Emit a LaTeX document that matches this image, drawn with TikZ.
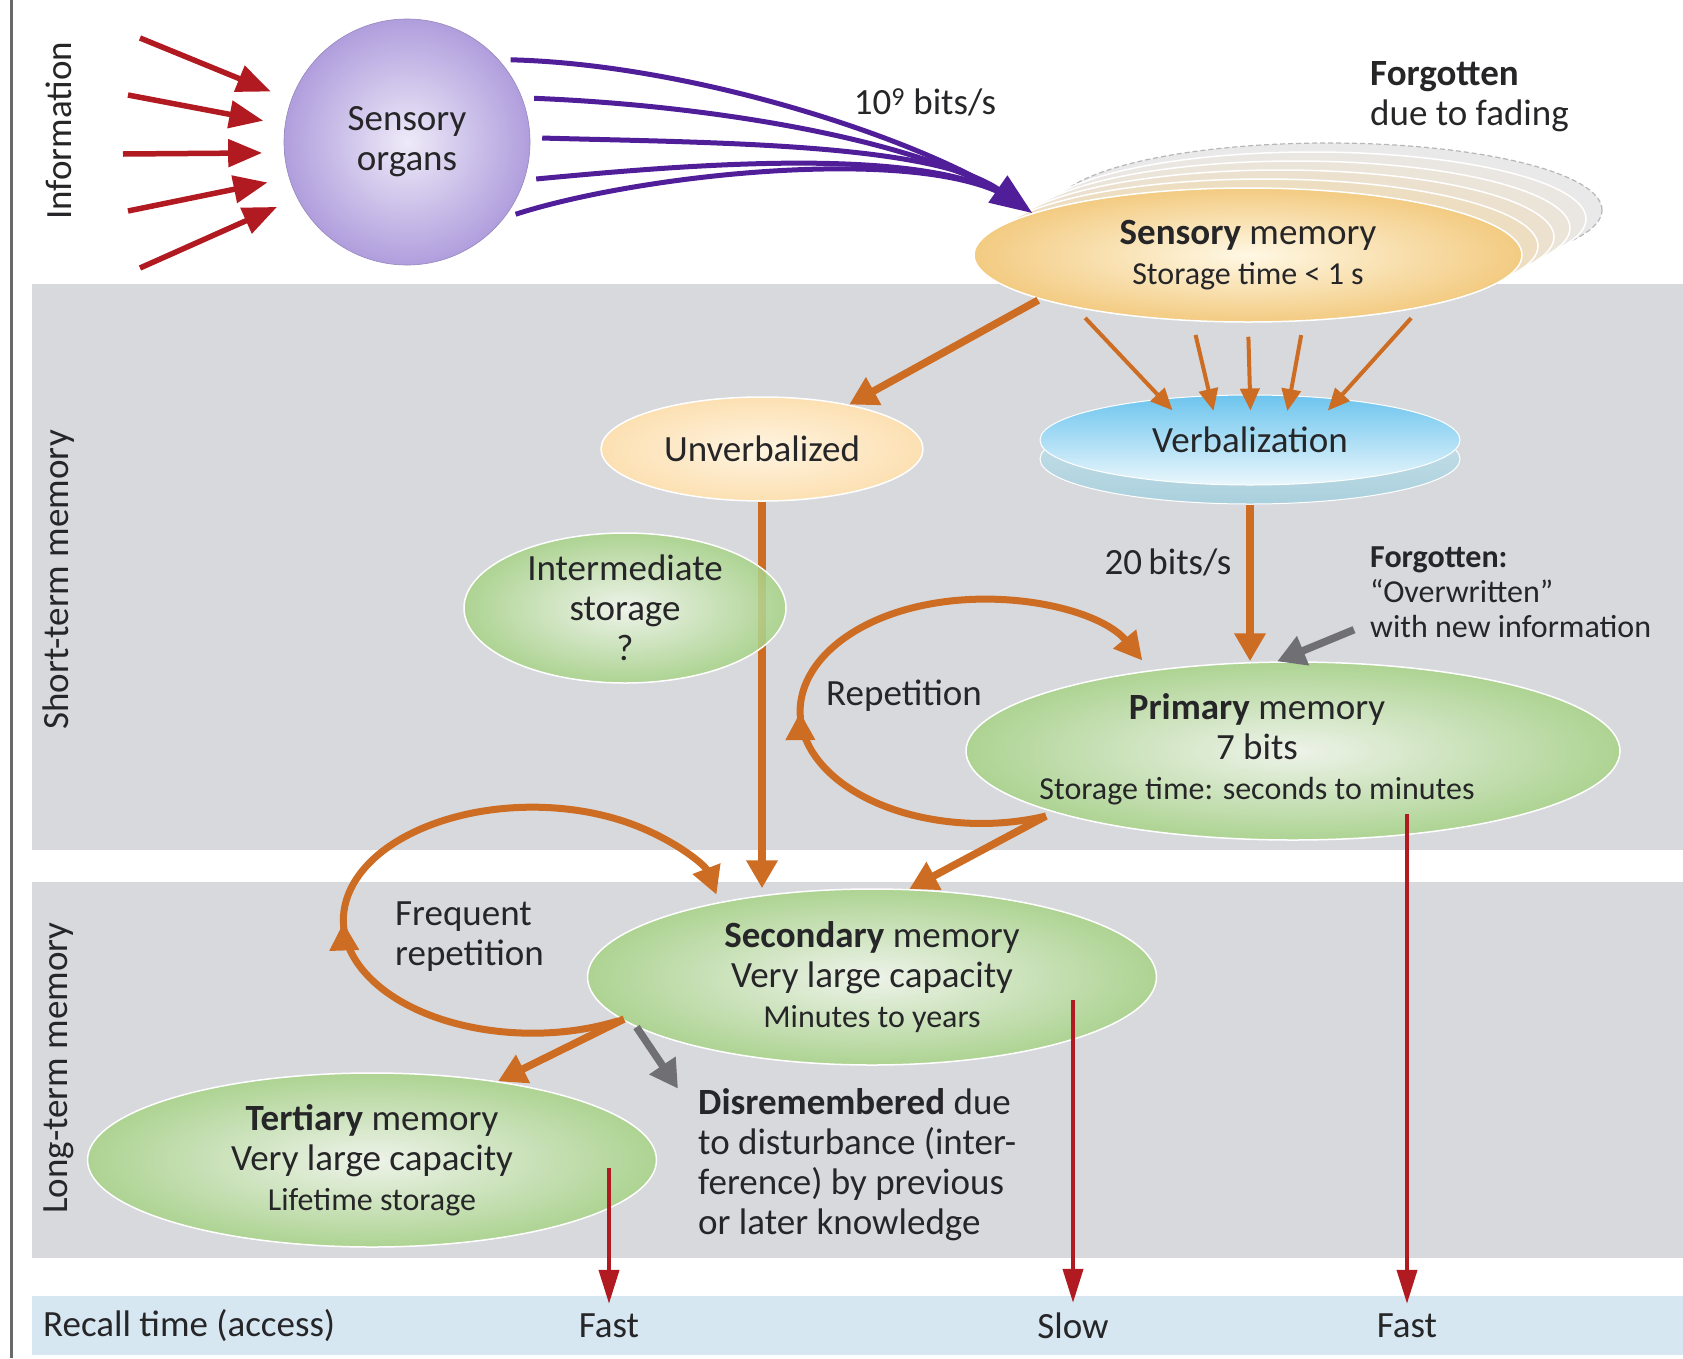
\documentclass[tikz,border=0pt]{standalone}
\usepackage{fontspec}
\setmainfont{Carlito}
\usetikzlibrary{arrows.meta,positioning,shapes.geometric,decorations.markings}
\definecolor{memorange}{RGB}{205,108,35}
\definecolor{recallred}{RGB}{178,26,34}
\definecolor{infopurple}{RGB}{80,30,152}
\definecolor{forgetgrey}{RGB}{112,112,116}
\definecolor{bandgrey}{RGB}{216,217,221}
\definecolor{bandblue}{RGB}{214,231,242}
\definecolor{rulegrey}{RGB}{105,105,105}
\definecolor{memgreen}{RGB}{166,211,134}
\definecolor{memgreenlight}{RGB}{242,248,236}
\definecolor{sensgold}{RGB}{243,203,130}
\definecolor{senslight}{RGB}{255,248,228}
\definecolor{peach}{RGB}{252,224,178}
\definecolor{peachlight}{RGB}{255,244,225}
\definecolor{verbblue}{RGB}{108,196,238}
\definecolor{verblight}{RGB}{234,247,252}
\definecolor{verbrim}{RGB}{170,208,221}
\definecolor{organlilac}{RGB}{176,158,221}
\definecolor{organlight}{RGB}{238,234,248}
\definecolor{ghostgrey}{RGB}{233,233,234}
\definecolor{textgrey}{RGB}{38,38,40}
\newcommand{\txtmain}{\fontsize{37}{40}\selectfont}
\newcommand{\txtsmall}{\fontsize{32}{35}\selectfont}

\begin{document}
\begin{tikzpicture}[
    x=1pt,y=-1pt,
    every node/.style={font=\txtmain,text=textgrey,inner sep=0pt},
    memnode/.style={ellipse,draw=white,line width=1.5pt,inner color=memgreenlight,
      outer color=memgreen,fill opacity=0.85,text opacity=1,align=center},
    sideword/.style={rotate=90},
    orangearrow/.style={draw=memorange,line width=7.5pt,-{Triangle[length=28pt,width=30pt]}},
    thinorange/.style={draw=memorange,line width=4pt,-{Triangle[length=22pt,width=19pt]}},
    loopline/.style={draw=memorange,line width=7pt,-{Triangle[length=28pt,width=28pt]},
      decoration={markings,mark=at position #1 with {\arrow{Triangle[length=28pt,width=28pt]}}},
      postaction={decorate}},
    inarrow/.style={draw=recallred,line width=5.5pt,-{Triangle[length=34pt,width=27pt]}},
    recallarrow/.style={draw=recallred,line width=4pt,-{Triangle[length=34pt,width=20pt]}},
    greyarrow/.style={draw=forgetgrey,line width=7.5pt,-{Triangle[length=28pt,width=30pt]}},
    infoline/.style={draw=infopurple,line width=5pt}
  ]
  \useasboundingbox (0,0) rectangle (1683,1358);
  % bands
  \fill[bandgrey] (32,284) rectangle (1683,850);
  \fill[bandgrey] (32,882) rectangle (1683,1258);
  \node[fill=bandblue,minimum width=1651pt,minimum height=59pt,anchor=north west] (recall) at (32,1296) {};
  \draw[rulegrey,line width=3pt] (11,0) -- (11,1358);
  \node[sideword] (infolbl) at (59,131) {Information};
  \node[sideword] (stmlbl) at (59,580) {Short-term memory};
  \node[sideword] (ltmlbl) at (59,1068) {Long-term memory};

  % information
  \node[circle,minimum size=246pt,inner color=organlight,outer color=organlilac,
    draw=organlilac!85!black,line width=0.6pt,align=center] (org) at (407,142) {Sensory\\organs};
  \coordinate (in1) at (140,38);
  \coordinate (in2) at (128,95);
  \coordinate (in3) at (123,154);
  \coordinate (in4) at (128,211);
  \coordinate (in5) at (140,268);
  \foreach \i/\a in {1/160,2/172,3/185,4/197,5/207}
    \draw[inarrow,shorten >=22pt] (in\i) -- (org.\a);

  % sensory memory and its faded copies
  \filldraw[fill=ghostgrey,draw=forgetgrey!50,line width=1.2pt,dash pattern=on 5pt off 3pt]
    (1328,210) ellipse [x radius=274pt,y radius=67pt];
  \foreach \k/\p in {4/8,3/16,2/26,1/38}
    \filldraw[fill=sensgold!\p!ghostgrey,draw=white,line width=1.5pt]
      (1248+16*\k,255-9*\k) ellipse [x radius=274pt,y radius=67pt];
  \node[ellipse,minimum width=548pt,minimum height=134pt,draw=white,line width=1.5pt,
    inner color=senslight,outer color=sensgold,align=center] (sens) at (1248,255)
    {{\bfseries Sensory} memory\\{\txtsmall Storage time < 1 s}};

  \foreach \a/\dx/\dy in {42/200/5,21/200/8,-18/160/-15,-38/140/-45}
    \draw[infoline,shorten <=12pt,shorten >=20pt] (org.\a) .. controls +(\dx,\dy) and +(-100,-70) .. (sens.169);
  \draw[infoline,shorten <=12pt,-{Triangle[length=42pt,width=32pt]}]
    (org.2) .. controls +(180,5) and +(-100,-70) .. (sens.169);
  \node (rate) at (925,102) {10\textsuperscript{9} bits/s};
  \node[anchor=west,align=left] (fade) at (1370,97) {{\bfseries Forgotten}\\due to fading};

  % short-term memory
  \node[ellipse,minimum width=322pt,minimum height=104pt,draw=white,line width=1.5pt,
    inner color=peachlight,outer color=peach] (unv) at (762,449) {Unverbalized};
  \node[ellipse,minimum width=420pt,minimum height=90pt,draw=white,line width=1pt,
    top color=verbrim!60,bottom color=verbrim] (verbbase) at (1250,459) {};
  \node[ellipse,minimum width=420pt,minimum height=90pt,draw=white,line width=1pt,
    top color=verbblue,bottom color=verblight] (verb) at (1250,440) {Verbalization};
  \draw[orangearrow,shorten <=2pt] (sens.192) -- (unv.27);
  \foreach \s/\t in {197/155,230/132,270/90,310/48,343/25}
    \draw[thinorange,shorten <=14pt,shorten >=-16pt] (sens.\s) -- (verb.\t);

  \coordinate (repfoot) at (1046,816);
  \draw[loopline=0.42] (repfoot) arc[start angle=-69,end angle=-333,x radius=181pt,y radius=112pt];
  \node[memnode,minimum width=654pt,minimum height=178pt] (prim) at (1293,751) {};
  \node[align=center] (primtxt) at (1257,749)
    {{\bfseries Primary} memory\\7 bits\\{\txtsmall Storage time: seconds to minutes}};
  \node[anchor=west] (reptxt) at (826,696) {Repetition};
  \draw[orangearrow] (verbbase.south) -- (verbbase.south |- prim.north)
    node[pos=0.37,left=15pt] (rate20) {20\,bits/s};
  \node[anchor=west,align=left,font=\txtsmall] (ovw) at (1370,592)
    {{\bfseries Forgotten:}\\``Overwritten''\\with new information};
  \draw[greyarrow] ([xshift=-16pt,yshift=8pt]ovw.south west) -- (prim.100);

  % long-term memory
  \coordinate (freqfoot) at (624,1019);
  \draw[loopline=0.42] (freqfoot) arc[start angle=-61,end angle=-347,x radius=189pt,y radius=113pt];
  \node[memnode,minimum width=569pt,minimum height=176pt] (sec) at (872,977)
    {{\bfseries Secondary} memory\\Very large capacity\\{\txtsmall Minutes to years}};
  \node[anchor=west,align=left] (freqtxt) at (395,937) {Frequent\\repetition};
  \draw[orangearrow] (unv.south) -- (unv.south |- sec.north);
  \node[memnode,minimum width=322pt,minimum height=150pt] (inter) at (625,608)
    {Intermediate\\storage\\?};
  \draw[orangearrow] (repfoot) -- (sec.67);

  \node[memnode,minimum width=569pt,minimum height=174pt] (ter) at (372,1160)
    {{\bfseries Tertiary} memory\\Very large capacity\\{\txtsmall Lifetime storage}};
  \draw[orangearrow] (freqfoot) -- (ter.32);
  \node[anchor=west,align=left] (disr) at (698,1165)
    {{\bfseries Disremembered} due\\to disturbance (inter-\\ference) by previous\\or later knowledge};
  \draw[greyarrow] (sec.192) -- ([xshift=-20pt]disr.north west);

  % recall time
  \node[anchor=west] (recalltxt) at (43,1326) {Recall time (access)};
  \node (fastter) at (609,1326) {Fast};
  \node (slowsec) at (1073,1326) {Slow};
  \node (fastprim) at (1407,1326) {Fast};
  \coordinate (terout) at (609,1168);
  \coordinate (secout) at (1073,1000);
  \coordinate (primout) at (1407,814);
  \draw[recallarrow,shorten >=10pt] (terout) -- (fastter.north);
  \draw[recallarrow,shorten >=10pt] (secout) -- (slowsec.north);
  \draw[recallarrow,shorten >=10pt] (primout) -- (fastprim.north);
\end{tikzpicture}
\end{document}
